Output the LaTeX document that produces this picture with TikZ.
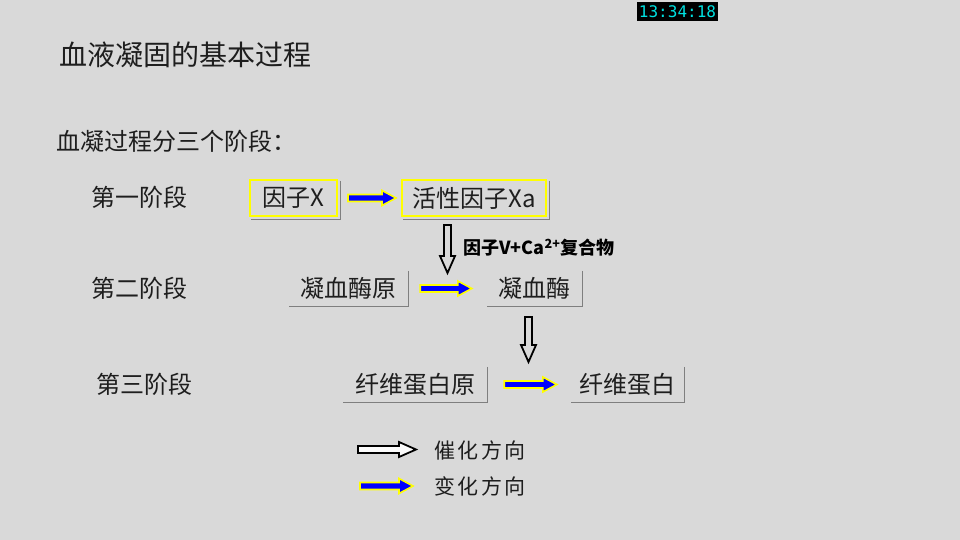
\documentclass[tikz,border=0pt]{standalone}
\usepackage{fontspec}
\setmainfont{Noto Sans CJK SC}
\newfontfamily\clockfont{DejaVu Sans Mono}
\usetikzlibrary{calc}
\definecolor{bg}{HTML}{D9D9D9}
\definecolor{txt}{HTML}{1E1E1E}
\definecolor{shadowgray}{HTML}{7F7F7F}
\definecolor{ybord}{HTML}{FFFF00}
\definecolor{bfill}{HTML}{0000FF}
\definecolor{clockcyan}{HTML}{00E0E0}
\tikzset{
  body/.style={font=\fontsize{24}{27}\selectfont, text=txt, inner sep=0pt},
  stagelabel/.style={body},
  ybox/.style={body, draw=ybord, line width=2pt, minimum height=36pt},
  sbox/.style={body, minimum height=35pt},
  shadowline/.style={draw=shadowgray, line width=1.3pt},
  barrowstyle/.style={draw=ybord, fill=bfill, line width=1.6pt, line join=miter},
  harrowstyle/.style={draw=black, line width=1.8pt, line join=miter},
}
% horizontal blue arrow from #1 to #2 (same y as #1)
\newcommand\hbluearrow[2]{%
  \path[barrowstyle] let \p1=#1, \p2=#2 in
   (\x1,\y1+3.5) -- (\x2-14,\y1+3.5) -- (\x2-14,\y1+7.5) -- (\x2,\y1) --
   (\x2-14,\y1-7.5) -- (\x2-14,\y1-3.5) -- (\x1,\y1-3.5) -- cycle;}
% horizontal hollow arrow
\newcommand\hhollowarrow[3]{%
  \path[harrowstyle,fill=#3] let \p1=#1, \p2=#2 in
   (\x1,\y1+3.5) -- (\x2-17,\y1+3.5) -- (\x2-17,\y1+7.5) -- (\x2,\y1) --
   (\x2-17,\y1-7.5) -- (\x2-17,\y1-3.5) -- (\x1,\y1-3.5) -- cycle;}
% vertical (downward) hollow arrow
\newcommand\vhollowarrow[3]{%
  \path[harrowstyle,fill=#3] let \p1=#1, \p2=#2 in
   (\x1-3.5,\y1) -- (\x1-3.5,\y2+17) -- (\x1-7.5,\y2+17) -- (\x1,\y2) --
   (\x1+7.5,\y2+17) -- (\x1+3.5,\y2+17) -- (\x1+3.5,\y1) -- cycle;}
\begin{document}
\begin{tikzpicture}[x=1pt,y=-1pt]
\path[fill=bg] (0,0) rectangle (960,540);
\useasboundingbox (0,0) rectangle (960,540);

% clock
\node[fill=black, minimum width=81pt, minimum height=19pt, inner sep=0pt,
      text=clockcyan, font=\clockfont\fontsize{16}{16}\selectfont]
      (clock) at (677.5,11.5) {13:34:18};

% titles
\node[anchor=west, font=\fontsize{28}{31}\selectfont, text=txt, inner sep=0pt]
  (title) at (59,55) {血液凝固的基本过程};
\node[body, anchor=west] (intro) at (56,141) {血凝过程分三个阶段：};

% stage labels
\node[stagelabel] (s1) at (139.5,197) {第一阶段};
\node[stagelabel] (s2) at (139.5,288) {第二阶段};
\node[stagelabel] (s3) at (144.5,384) {第三阶段};

% stage 1 boxes
\node[ybox, minimum width=87pt] (fx) at (293.5,198) {因子X};
\node[ybox, minimum width=144pt] (fxa) at (474,198) {活性因子Xa};
\draw[shadowline] ([xshift=2.5pt,yshift=-2pt]fx.north east) -- ([xshift=2.5pt,yshift=-2.5pt]fx.south east) -- ([xshift=2pt,yshift=-2.5pt]fx.south west);
\draw[shadowline] ([xshift=2.5pt,yshift=-2pt]fxa.north east) -- ([xshift=2.5pt,yshift=-2.5pt]fxa.south east) -- ([xshift=2pt,yshift=-2.5pt]fxa.south west);

% stage 2 boxes
\node[sbox, minimum width=119pt] (pro) at (348.5,288.5) {凝血酶原};
\node[sbox, minimum width=95pt] (thr) at (534.5,288.5) {凝血酶};
\draw[shadowline] (pro.north east) -- (pro.south east) -- (pro.south west);
\draw[shadowline] (thr.north east) -- (thr.south east) -- (thr.south west);

% stage 3 boxes
\node[sbox, minimum width=144pt] (fbg) at (415,384.5) {纤维蛋白原};
\node[sbox, minimum width=113pt] (fbn) at (627.5,384.5) {纤维蛋白};
\draw[shadowline] (fbg.north east) -- (fbg.south east) -- (fbg.south west);
\draw[shadowline] (fbn.north east) -- (fbn.south east) -- (fbn.south west);

% blue (change) arrows
\hbluearrow{([xshift=10pt]fx.east)}{([xshift=-5pt]fxa.west)}
\hbluearrow{([xshift=12pt]pro.east)}{([xshift=-15pt]thr.west)}
\hbluearrow{([xshift=17pt]fbg.east)}{([xshift=-14pt]fbn.west)}

% hollow (catalysis) arrows
\coordinate (c1a) at (447.5,225);
\coordinate (c1b) at (447.5,273);
\coordinate (c2a) at (528.5,317);
\coordinate (c2b) at (528.5,362);
\vhollowarrow{(c1a)}{(c1b)}{bg}
\vhollowarrow{(c2a)}{(c2b)}{bg}
\node[anchor=west, inner sep=0pt, text=black, font=\fontsize{18}{21}\selectfont\bfseries]
  (cplx) at (463,248) {因子V+Ca\textsuperscript{2+}复合物};

% legend
\coordinate (l1a) at (358,449.5);
\coordinate (l1b) at (416,449.5);
\coordinate (l2a) at (360,486);
\coordinate (l2b) at (413,486);
\hhollowarrow{(l1a)}{(l1b)}{white!90!bg}
\hbluearrow{(l2a)}{(l2b)}
\node[body, anchor=west, font=\fontsize{21}{24}\selectfont] (lg1) at (434,450) {催\hspace{2.5pt}化\hspace{2.5pt}方\hspace{2.5pt}向};
\node[body, anchor=west, font=\fontsize{21}{24}\selectfont] (lg2) at (434,486) {变\hspace{2.5pt}化\hspace{2.5pt}方\hspace{2.5pt}向};
\end{tikzpicture}
\end{document}
